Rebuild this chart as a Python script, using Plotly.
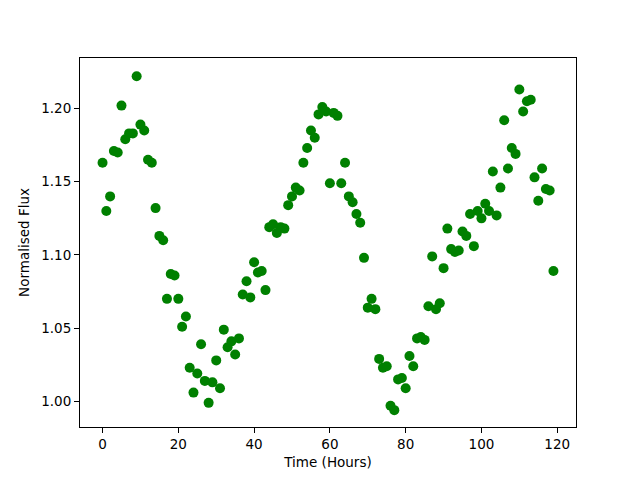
import plotly.graph_objects as go

hours = list(range(120))
flux = [
    1.163, 1.130, 1.140, 1.171, 1.170, 1.202, 1.179, 1.183, 1.183, 1.222,
    1.189, 1.185, 1.165, 1.163, 1.132, 1.113, 1.110, 1.070, 1.087, 1.086,
    1.070, 1.051, 1.058, 1.023, 1.006, 1.019, 1.039, 1.014, 0.999, 1.013,
    1.028, 1.009, 1.049, 1.037, 1.041, 1.032, 1.043, 1.073, 1.082, 1.071,
    1.095, 1.088, 1.089, 1.076, 1.119, 1.121, 1.115, 1.119, 1.118, 1.134,
    1.140, 1.146, 1.144, 1.163, 1.173, 1.185, 1.180, 1.196, 1.201, 1.198,
    1.149, 1.197, 1.195, 1.149, 1.163, 1.140, 1.136, 1.128, 1.122, 1.098,
    1.064, 1.070, 1.063, 1.029, 1.023, 1.024, 0.997, 0.994, 1.015, 1.016,
    1.009, 1.031, 1.024, 1.043, 1.044, 1.042, 1.065, 1.099, 1.063, 1.067,
    1.091, 1.118, 1.104, 1.102, 1.103, 1.116, 1.113, 1.128, 1.106, 1.130,
    1.125, 1.135, 1.130, 1.157, 1.127, 1.146, 1.192, 1.159, 1.173, 1.169,
    1.213, 1.198, 1.205, 1.206, 1.153, 1.137, 1.159, 1.145, 1.144, 1.089,
]

x_ticks = [0, 20, 40, 60, 80, 100, 120]
y_ticks = [1.00, 1.05, 1.10, 1.15, 1.20]

fig = go.Figure()
fig.add_trace(go.Scatter(
    x=hours, y=flux, mode="markers",
    marker=dict(color="#008000", size=10, line=dict(width=0)),
))

font = dict(family="DejaVu Sans", size=13.5, color="black")
axis_common = dict(
    showgrid=False, zeroline=False, showline=True, linecolor="black",
    linewidth=1, mirror=True, ticks="outside", ticklen=5, tickwidth=1,
    tickcolor="black", tickfont=font, automargin=False,
)

# page body has an 8px margin, so the figure is shrunk to keep the axes in place
fig.update_layout(
    width=632, height=472,
    margin=dict(l=72, r=64, t=50, b=53),
    paper_bgcolor="white", plot_bgcolor="white",
    showlegend=False,
    font=font,
    xaxis=dict(range=[-5.95, 124.95], tickvals=x_ticks,
               title=dict(text="Time (Hours)", font=font, standoff=6), **axis_common),
    yaxis=dict(range=[0.9825, 1.2345], tickvals=y_ticks, tickformat=".2f",
               title=dict(text="Normalised Flux", font=font, standoff=8), **axis_common),
)

fig.write_html("out.html")
